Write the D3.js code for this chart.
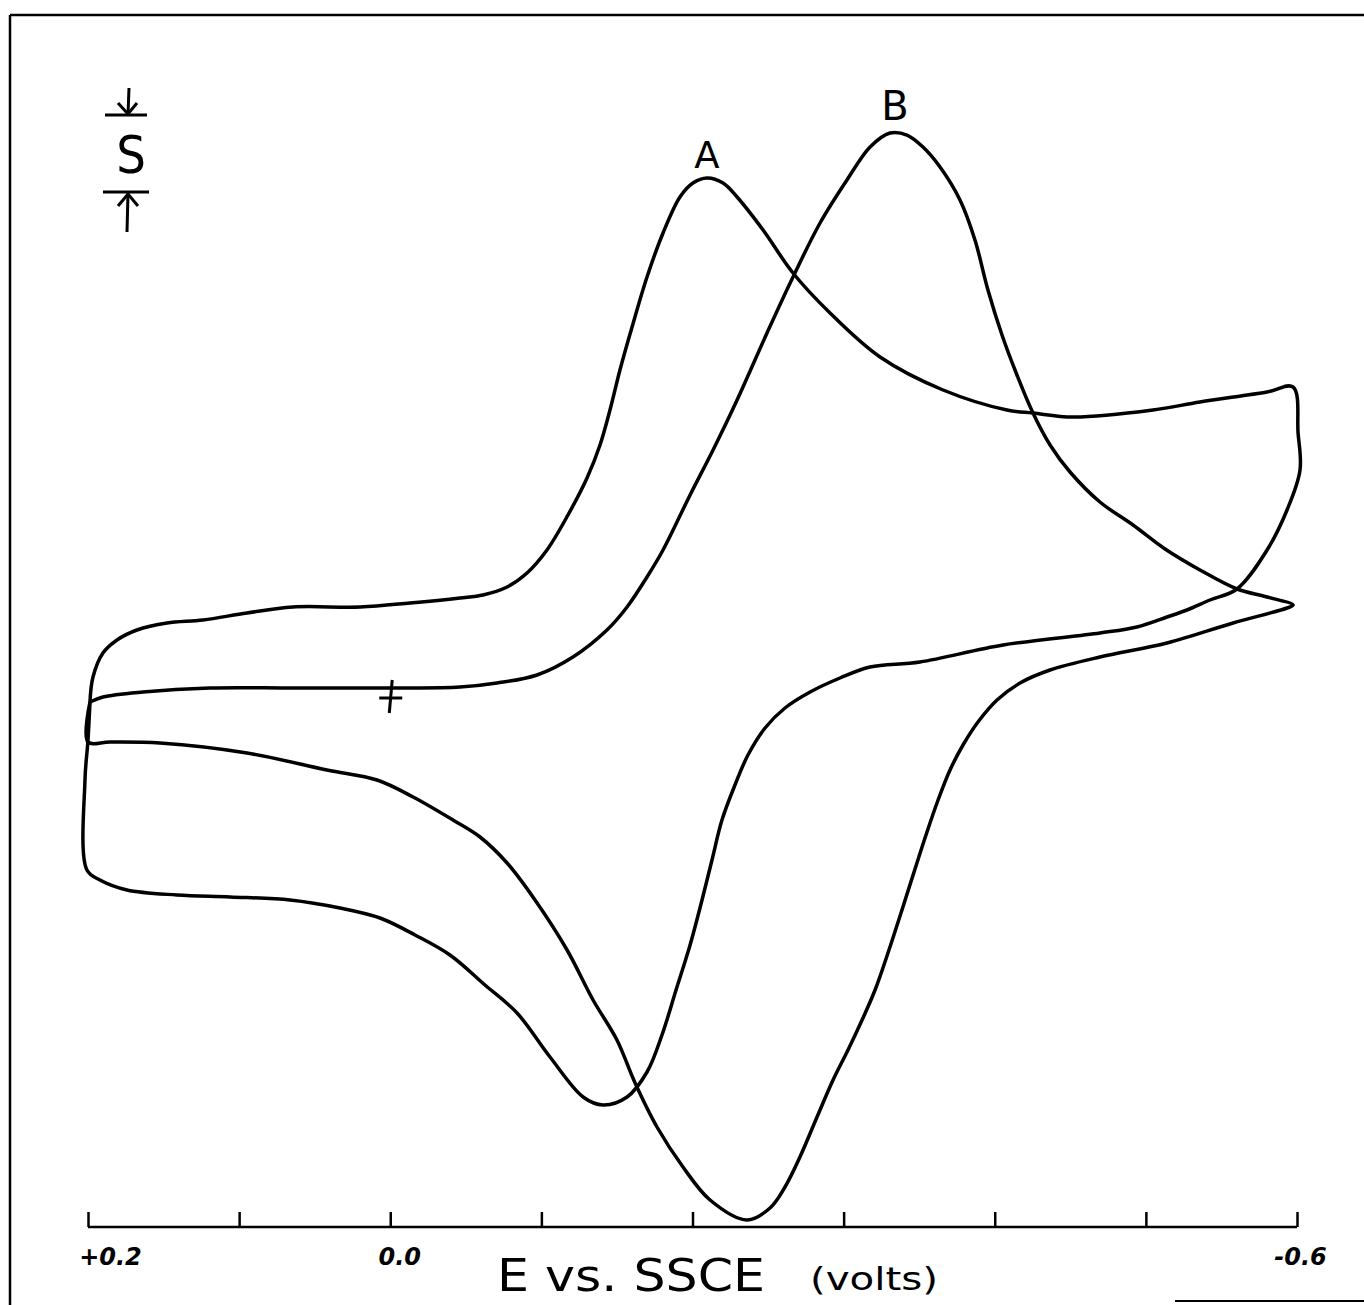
<!DOCTYPE html>
<html>
<head>
<meta charset="utf-8">
<script src="https://cdn.jsdelivr.net/npm/d3@7"></script>
<style>
  html, body { margin: 0; padding: 0; background: #fff; }
  svg { display: block; }
</style>
</head>
<body>
<svg id="chart" width="1364" height="1305"></svg>
<script>
// Potential E (mV vs SSCE) and current (arbitrary chart units)
const curveA_E = [198.7,196.7,190.1,180.8,167.6,147.7,123.9,94.8,64.4,20.0,-13.1,-46.2,-61.4,-77.3,-90.5,-103.7,-117.6,-130.2,-138.8,-145.4,-152.0,-160.0,-169.9,-180.5,-191.7,-200.3,-209.6,-220.2,-229.5,-246.7,-266.5,-291.0,-324.1,-365.8,-408.1,-425.3,-451.8,-504.7,-535.8,-580.2,-597.4,-600.7,-602.0,-593.4,-580.2,-560.3,-542.4,-527.2,-514.0,-494.1,-469.6,-405.5,-350.5,-317.5,-297.6,-277.8,-261.2,-248.0,-236.7,-228.1,-219.5,-212.9,-206.3,-198.4,-189.1,-179.8,-169.9,-156.7,-140.8,-127.6,-105.7,-83.9,-62.7,-39.5,-16.4,6.8,33.3,66.3,106.0,141.1,174.2,192.1,200.7,202.0,200.0,198.7];
const curveA_I = [-0.2,2.3,4.7,6.0,7.0,7.7,8.0,8.7,9.3,9.3,9.7,10.2,10.5,11.3,12.7,15.0,18.5,22.2,25.5,29.0,33.0,37.3,42.3,46.7,50.3,51.7,52.2,51.7,50.3,47.0,42.7,38.7,34.3,31.0,29.0,28.7,28.3,29.0,29.8,30.8,31.3,26.7,23.0,19.0,15.0,11.1,10.0,9.0,8.3,7.3,6.7,5.5,3.8,3.3,2.2,0.8,-0.8,-2.8,-5.5,-8.5,-12.0,-16.0,-20.0,-24.5,-29.0,-33.5,-37.2,-39.7,-40.5,-39.7,-35.7,-31.3,-28.5,-25.5,-23.5,-21.8,-20.8,-20.0,-19.7,-19.5,-19.0,-18.0,-17.0,-8.0,-4.0,-0.2];

const curveB_E = [198.7,190.1,163.6,119.3,64.4,-1.8,-46.2,-70.6,-97.1,-120.9,-143.4,-156.7,-169.9,-180.5,-198.4,-213.6,-229.5,-249.3,-266.5,-284.4,-302.2,-317.5,-330.7,-341.9,-352.5,-363.8,-377.0,-386.9,-395.5,-404.8,-414.7,-425.3,-436.6,-449.8,-469.6,-491.5,-512.7,-535.8,-560.3,-580.2,-597.4,-593.4,-557.7,-514.0,-469.6,-436.6,-416.7,-401.5,-388.9,-379.0,-370.4,-362.5,-354.5,-346.6,-338.6,-330.0,-320.8,-312.2,-302.9,-293.0,-282.4,-271.1,-261.2,-251.3,-236.1,-211.6,-193.7,-176.5,-162.0,-150.0,-134.2,-117.0,-95.8,-77.3,-59.4,-41.5,-15.1,8.8,41.9,94.8,152.4,185.4,200.0,198.7];
const curveB_I = [-0.2,0.3,0.8,1.2,1.2,1.2,1.3,1.7,2.5,4.3,7.0,9.3,12.3,15.0,20.5,25.0,30.0,36.7,42.3,47.7,52.0,55.3,56.7,56.5,55.3,53.3,50.0,46.0,41.0,36.5,32.5,28.7,25.5,22.8,19.8,17.5,15.1,13.0,11.1,10.3,9.5,9.2,7.7,5.7,4.3,3.0,1.7,0.0,-2.2,-4.5,-7.0,-10.0,-13.5,-17.2,-21.0,-25.0,-29.0,-32.0,-35.0,-38.0,-41.7,-45.7,-48.7,-50.8,-52.0,-50.0,-46.7,-42.7,-38.3,-34.0,-30.0,-25.0,-20.0,-16.3,-13.7,-12.0,-9.7,-8.0,-7.0,-5.3,-4.3,-4.2,-4.2,-0.2];

const tickValues = [200,100,0,-100,-200,-300,-400,-500,-600];
const labeledTicks = [200,0,-600];
const tickLabels = ["+0.2","0.0","-0.6"];
const peakLabels = ["A","B"];
const peakE = [-209.6,-330.7];
const peakI = [52.2,56.7];
const startE = 0, startI = 1.2;

const svg = d3.select("#chart");
const x = d3.scaleLinear().domain([200,-600]).range([88,1297]);
const y = d3.scaleLinear().domain([0,70]).range([700,0]);

// frame
svg.append("line").attr("x1",10).attr("y1",15).attr("x2",1364).attr("y2",15)
  .attr("stroke","#000").attr("stroke-width",2.5);
svg.append("line").attr("x1",10).attr("y1",15).attr("x2",10).attr("y2",1305)
  .attr("stroke","#000").attr("stroke-width",2.5);
svg.append("line").attr("x1",1175).attr("y1",1301).attr("x2",1364).attr("y2",1301)
  .attr("stroke","#000").attr("stroke-width",2);

const line = d3.line().x(d=>x(d[0])).y(d=>y(d[1])).curve(d3.curveCatmullRom.alpha(0.5));
const A = curveA_E.map((e,i)=>[e,curveA_I[i]]);
const B = curveB_E.map((e,i)=>[e,curveB_I[i]]);
[A,B].forEach(pts=>{
  svg.append("path").attr("d",line(pts)).attr("fill","none")
    .attr("stroke","#000").attr("stroke-width",3.5).attr("stroke-linejoin","round");
});

// peak labels
peakLabels.forEach((t,i)=>{
  svg.append("text").attr("x",x(peakE[i])+ (i===0?0:5)).attr("y",y(peakI[i]) - (i===0?10:13))
    .attr("text-anchor","middle").attr("font-family","DejaVu Sans")
    .attr("font-size", i===0?37:40).text(t);
});

// start marker
svg.append("line").attr("x1",x(startE)+2).attr("x2",x(startE)-1)
  .attr("y1",y(startI)-8).attr("y2",y(startI)+25).attr("stroke","#000").attr("stroke-width",3);
svg.append("line").attr("x1",x(startE)-11).attr("x2",x(startE)+12)
  .attr("y1",y(startI)+10).attr("y2",y(startI)+10).attr("stroke","#000").attr("stroke-width",3);

// axis
const axis = d3.axisBottom(x).tickValues(tickValues).tickSize(-15).tickSizeOuter(0)
  .tickFormat(d=>{const k=labeledTicks.indexOf(d); return k>=0?tickLabels[k]:"";});
const gAx = svg.append("g").attr("transform","translate(0,1227)").call(axis);
gAx.select(".domain").attr("stroke","#000").attr("stroke-width",2.5).attr("d","M88,0H1297");
gAx.selectAll(".tick line").attr("stroke","#000").attr("stroke-width",2.5);
gAx.selectAll(".tick text").attr("fill","#000")
  .attr("font-family","DejaVu Sans").attr("font-weight","bold").attr("font-style","italic")
  .attr("font-size",24).attr("y",38).attr("dy",0)
  .attr("dx",d=> d===200?22:(d===0?9:3));

// axis title
svg.append("text").attr("x",497).attr("y",1291).attr("font-family","DejaVu Sans Condensed")
  .attr("font-size",44).attr("textLength",268).attr("lengthAdjust","spacingAndGlyphs").text("E  vs. SSCE");
svg.append("text").attr("x",810).attr("y",1290).attr("font-family","DejaVu Sans Condensed")
  .attr("font-size",32).attr("textLength",128).attr("lengthAdjust","spacingAndGlyphs").text("(volts)");

// S scale bar
const sb = svg.append("g").attr("stroke","#000").attr("stroke-width",3).attr("fill","none");
sb.append("line").attr("x1",105).attr("x2",147).attr("y1",115).attr("y2",115);
sb.append("line").attr("x1",129).attr("x2",128).attr("y1",88).attr("y2",115);
sb.append("path").attr("d","M118,103L128,114L137,103");
sb.append("line").attr("x1",103).attr("x2",149).attr("y1",192).attr("y2",192);
sb.append("line").attr("x1",128).attr("x2",127).attr("y1",193).attr("y2",232);
sb.append("path").attr("d","M118,206L128,194L138,206");
svg.append("text").attr("x",131).attr("y",173).attr("text-anchor","middle")
  .attr("font-family","DejaVu Sans Condensed").attr("font-size",52).text("S");
</script>
</body>
</html>
